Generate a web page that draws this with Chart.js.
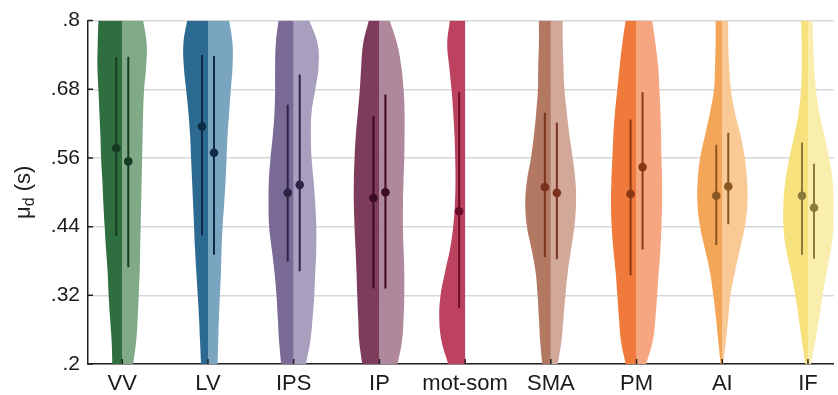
<!DOCTYPE html>
<html>
<head>
<meta charset="utf-8">
<script src="https://cdn.jsdelivr.net/npm/chart.js@4.4.1/dist/chart.umd.min.js"></script>
<style>
    html, body { margin: 0; padding: 0; background: #fff; }
    #wrap { width: 838px; height: 395px; }
</style>
</head>
<body>
<div id="wrap"><canvas id="chart"></canvas></div>
<script>
// regions on the x axis
const categories = ['VV', 'LV', 'IPS', 'IP', 'mot-som', 'SMA', 'PM', 'AI', 'IF']

// y levels (s) at which the violin densities were read, bottom to top
const levels = [0.20, 0.24, 0.28, 0.32, 0.36, 0.40, 0.44, 0.48, 0.52, 0.56, 0.60, 0.64, 0.68, 0.72, 0.76, 0.80]

// half-violin densities, condition A (left, dark) and B (right, light)
const densityA = [
    [10, 10.7, 12.3, 13.7, 14.7, 16.3, 17.7, 19, 20, 21.3, 22, 23, 24, 25, 24.7, 24],
    [7, 8, 9, 10.3, 11.7, 13, 14, 15, 16, 17, 18, 19.7, 22, 24.3, 24.7, 21],
    [12.7, 14.7, 16, 17.3, 19.3, 22, 24.7, 25.3, 25, 23.3, 21, 19.3, 18.7, 18.7, 18, 15.3],
    [17.3, 20.3, 21.3, 22.3, 23, 24, 25, 25.7, 25.7, 25, 23.7, 21.7, 19.7, 18.3, 16.3, 10.7],
    [17, 23.7, 26, 24.7, 20.3, 15.3, 12, 10.3, 9.7, 10, 10.7, 12, 13.7, 16, 18, 15.3],
    [8.7, 10.7, 12, 13.3, 15.3, 19.3, 24, 25.7, 24, 20, 17, 14.7, 13, 12.7, 12, 12],
    [11, 15.7, 17.7, 19.3, 21, 23.3, 25, 25.7, 25.3, 24.3, 23.3, 21.7, 19.3, 17, 14.3, 11],
    [1.7, 4, 6.3, 9, 12.3, 17.3, 22.3, 25, 24.7, 22.3, 17.3, 12.3, 8.3, 7.3, 6.7, 6.7],
    [2.7, 6, 9.3, 12.7, 17, 22, 24.7, 24.7, 22.7, 18.7, 13.7, 9.3, 7, 6.3, 6.3, 7]
]
const densityB = [
    [11, 14, 15.5, 16.5, 17.5, 18, 18.5, 19, 19.5, 20, 20.5, 21, 22, 24, 24.5, 21],
    [9.7, 10.3, 11, 12, 13, 13.7, 14.7, 16.3, 17.7, 18.7, 19.7, 21.3, 23, 24.7, 24.7, 21.3],
    [12.3, 16.7, 19, 20.7, 21.7, 22.7, 22.7, 21.7, 20, 18, 17.3, 18, 21.7, 25, 24, 15.7],
    [18.3, 22.7, 24.3, 25, 25, 24.3, 23.7, 23.7, 24.3, 25, 25.3, 25.3, 24.3, 22, 17.7, 10.3],
    null,
    [7, 10.7, 12.7, 14.7, 17, 20.3, 23.7, 25.3, 24.7, 22, 18.7, 16, 13.7, 12.7, 12, 12],
    [9.7, 16.3, 19, 20.7, 22.3, 24, 25, 25.7, 25.7, 25, 24.7, 24, 23, 21.7, 19, 15.7],
    [1, 3.7, 6, 8.3, 12.7, 17.7, 22.7, 25.3, 25, 22.7, 18.3, 12.7, 8.7, 7, 6, 6],
    [3, 7.3, 11.3, 14.7, 18.7, 23, 25.7, 26.3, 24.7, 21.3, 16.3, 11.3, 8, 6.3, 5.3, 4.7]
]

// means and interval ends (s)
const meanA = [0.577, 0.615, 0.499, 0.490, 0.467, 0.509, 0.497, 0.494, 0.494]
const lowA = [0.424, 0.425, 0.379, 0.332, 0.298, 0.387, 0.355, 0.408, 0.391]
const highA = [0.736, 0.740, 0.653, 0.633, 0.675, 0.639, 0.627, 0.583, 0.587]
const meanB = [0.554, 0.569, 0.513, 0.500, null, 0.499, 0.544, 0.510, 0.473]
const lowB = [0.369, 0.391, 0.362, 0.332, null, 0.383, 0.400, 0.444, 0.384]
const highB = [0.737, 0.738, 0.706, 0.671, null, 0.622, 0.675, 0.604, 0.550]

const yTicks = [0.2, 0.32, 0.44, 0.56, 0.68, 0.8]
const yTickLabels = ['.2', '.32', '.44', '.56', '.68', '.8']

const colorsA = ['#2f6e3e', '#2d6a91', '#796a96', '#7d3c5c', '#bc4260', '#b27862', '#f07a3c', '#f4a658', '#f7e17d']
const colorsB = ['#80aa87', '#7aa5c0', '#a89ebd', '#b0889b', null, '#d2a898', '#f6a680', '#faca96', '#faeeaf']
const markColors = ['#173a22', '#0d2b45', '#2d2345', '#3d0b22', '#6b0d26', '#7a3320', '#8a3714', '#8a561f', '#8c7a3a']

const widthScale = 1 / 86.2
const markOffset = 0.07
const axisColor = '#222'
const fontFamily = '"Liberation Sans", Arial, sans-serif'

const datasets = []
categories.forEach((cat, i) => {
    const c = i + 1
    const halves = [[densityA[i], colorsA[i], -1], [densityB[i], colorsB[i], 1]]
    halves.forEach(([dens, color, side]) => {
        if (!dens) return
        // vertical line through the density edge, filled back to the category centre
        datasets.push({
            type: 'line', indexAxis: 'y', showLine: true,
            data: dens.map((d, k) => ({ x: c + side * d * widthScale, y: levels[k] })),
            fill: { value: c }, backgroundColor: color, borderWidth: 0, pointRadius: 0,
            tension: 0.4, order: 3
        })
    })
    const marks = [[meanA[i], lowA[i], highA[i], -1], [meanB[i], lowB[i], highB[i], 1]]
    marks.forEach(([m, lo, hi, side]) => {
        if (m === null) return
        const x = c + side * markOffset
        datasets.push({
            type: 'line', data: [{ x, y: lo }, { x, y: hi }], showLine: true,
            borderColor: markColors[i], borderWidth: 2, pointRadius: 0, fill: false, order: 2
        })
        datasets.push({
            type: 'scatter', data: [{ x, y: m }], pointRadius: 4.3,
            backgroundColor: markColors[i], borderWidth: 0, order: 1
        })
    })
})

const innerTicks = {
    id: 'innerTicks',
    afterDatasetsDraw(chart) {
        const { ctx, chartArea } = chart
        const xs = chart.scales.x, ys = chart.scales.y
        ctx.save()
        ctx.strokeStyle = axisColor
        ctx.lineWidth = 1.5
        ctx.beginPath()
        yTicks.forEach(v => {
            const py = ys.getPixelForValue(v)
            ctx.moveTo(chartArea.left, py)
            ctx.lineTo(chartArea.left + 5, py)
        })
        categories.forEach((c, i) => {
            const px = xs.getPixelForValue(i + 1)
            ctx.moveTo(px, chartArea.bottom)
            ctx.lineTo(px, chartArea.bottom - 5)
        })
        ctx.stroke()
        ctx.restore()
    }
}

const yLabel = {
    id: 'yLabel',
    afterDraw(chart) {
        const { ctx, chartArea } = chart
        const big = `22px ${fontFamily}`
        const small = `16px ${fontFamily}`
        ctx.save()
        ctx.translate(30, (chartArea.top + chartArea.bottom) / 2)
        ctx.rotate(-Math.PI / 2)
        ctx.fillStyle = axisColor
        ctx.textBaseline = 'alphabetic'
        ctx.font = big
        const w1 = ctx.measureText('\u03bc').width
        const w3 = ctx.measureText(' (s)').width
        ctx.font = small
        const w2 = ctx.measureText('d').width
        let x = -(w1 + w2 + w3) / 2
        ctx.font = big
        ctx.fillText('\u03bc', x, 0)
        x += w1
        ctx.font = small
        ctx.fillText('d', x, 4)
        x += w2
        ctx.font = big
        ctx.fillText(' (s)', x, 0)
        ctx.restore()
    }
}

new Chart(document.getElementById('chart'), {
    type: 'scatter',
    data: { datasets },
    options: {
        responsive: true,
        maintainAspectRatio: false,
        animation: false,
        layout: { padding: { top: 20, right: 0, bottom: 0, left: 0 } },
        plugins: { legend: { display: false }, tooltip: { enabled: false } },
        scales: {
            x: {
                type: 'linear', min: 0.6, max: 9.3,
                afterBuildTicks: axis => { axis.ticks = categories.map((c, i) => ({ value: i + 1 })) },
                afterFit: scale => { scale.height = 31 },
                ticks: {
                    autoSkip: false, maxRotation: 0, padding: 7, color: '#1a1a1a',
                    font: { family: fontFamily, size: 22 },
                    callback: v => categories[Math.round(v) - 1]
                },
                grid: { display: false, drawTicks: false },
                border: { display: true, color: axisColor, width: 1.5 }
            },
            y: {
                type: 'linear', min: 0.2, max: 0.8,
                afterBuildTicks: axis => { axis.ticks = yTicks.map(v => ({ value: v })) },
                afterFit: scale => { scale.width = 88 },
                ticks: {
                    padding: 8, color: '#1a1a1a',
                    font: { family: fontFamily, size: 21 },
                    callback: (v, i) => yTickLabels[i]
                },
                grid: { color: '#d8d8d8', lineWidth: 1.5, drawTicks: false },
                border: { display: true, color: axisColor, width: 1.5 }
            }
        }
    },
    plugins: [innerTicks, yLabel]
})
</script>
</body>
</html>
